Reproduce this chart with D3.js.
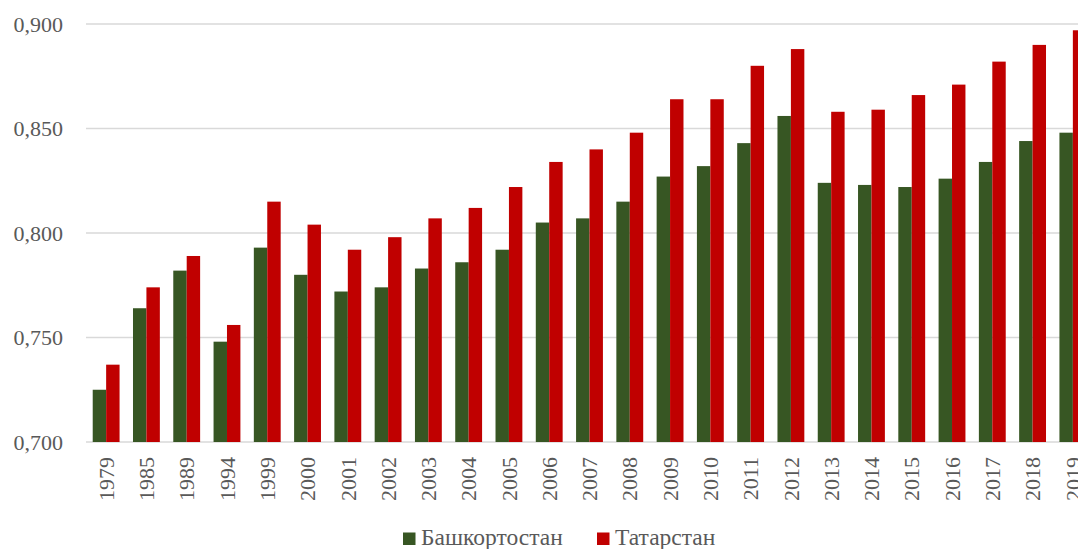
<!DOCTYPE html>
<html>
<head>
<meta charset="utf-8">
<script src="https://cdn.jsdelivr.net/npm/d3@7"></script>
<style>
  html, body { margin: 0; padding: 0; background: #fff; overflow: hidden; }
  text { font-family: "Liberation Serif", "DejaVu Serif", serif; fill: #595959; }
</style>
</head>
<body>
<svg id="chart" width="1078" height="549"></svg>
<script>
// Years and index values
const years = ['1979', '1985', '1989', '1994', '1999', '2000', '2001', '2002', '2003', '2004',
  '2005', '2006', '2007', '2008', '2009', '2010', '2011', '2012', '2013', '2014',
  '2015', '2016', '2017', '2018', '2019'];
const bashkortostan = [0.725, 0.764, 0.782, 0.748, 0.793, 0.780, 0.772, 0.774, 0.783, 0.786,
  0.792, 0.805, 0.807, 0.815, 0.827, 0.832, 0.843, 0.856, 0.824, 0.823,
  0.822, 0.826, 0.834, 0.844, 0.848];
const tatarstan = [0.737, 0.774, 0.789, 0.756, 0.815, 0.804, 0.792, 0.798, 0.807, 0.812,
  0.822, 0.834, 0.840, 0.848, 0.864, 0.864, 0.880, 0.888, 0.858, 0.859,
  0.866, 0.871, 0.882, 0.890, 0.897];
const seriesNames = ['Башкортостан', 'Татарстан'];
const yTicks = [0.700, 0.750, 0.800, 0.850, 0.900];

const colors = { 'Башкортостан': '#375623', 'Татарстан': '#c00000' };

const svg = d3.select('#chart');

// plot area runs a bit past the right edge, like the original
const plot = { left: 86, right: 1093, top: 24, bottom: 442 };

const x0 = d3.scaleBand()
    .domain(years)
    .range([plot.left, plot.right])
    .paddingInner(1 / 3)
    .paddingOuter(1 / 6);

const x1 = d3.scaleBand()
    .domain(seriesNames)
    .range([0, x0.bandwidth()]);

const y = d3.scaleLinear()
    .domain([0.7, 0.9])
    .range([plot.bottom, plot.top]);

const fmt = v => d3.format('.3f')(v).replace('.', ',');

// gridlines
svg.append('g')
    .selectAll('line')
    .data(yTicks)
    .join('line')
    .attr('x1', plot.left)
    .attr('x2', plot.right)
    .attr('y1', d => y(d))
    .attr('y2', d => y(d))
    .attr('stroke', '#d9d9d9')
    .attr('stroke-width', 1.5);

// y labels
svg.append('g')
    .selectAll('text')
    .data(yTicks)
    .join('text')
    .attr('x', 63)
    .attr('y', d => y(d))
    .attr('dy', '0.35em')
    .attr('text-anchor', 'end')
    .attr('font-size', 22)
    .text(fmt);

// bars
const rows = years.map((yr, i) => ({
    year: yr,
    values: [
        { key: seriesNames[0], value: bashkortostan[i] },
        { key: seriesNames[1], value: tatarstan[i] }
    ]
}));

const groups = svg.append('g')
    .selectAll('g')
    .data(rows)
    .join('g')
    .attr('transform', d => `translate(${x0(d.year)},0)`);

groups.selectAll('rect')
    .data(d => d.values)
    .join('rect')
    .attr('x', d => x1(d.key))
    .attr('y', d => y(d.value))
    .attr('width', x1.bandwidth())
    .attr('height', d => y(0.7) - y(d.value))
    .attr('fill', d => colors[d.key]);

// x labels, rotated
svg.append('g')
    .selectAll('text')
    .data(years)
    .join('text')
    .attr('transform', d => `translate(${x0(d) + x0.bandwidth() / 2},457) rotate(-90)`)
    .attr('dy', '0.35em')
    .attr('text-anchor', 'end')
    .attr('font-size', 22)
    .text(d => d);

// legend
const legendItems = [
    { key: seriesNames[0], x: 403 },
    { key: seriesNames[1], x: 597 }
];
const legend = svg.append('g')
    .selectAll('g')
    .data(legendItems)
    .join('g')
    .attr('transform', d => `translate(${d.x},532.5)`);

legend.append('rect')
    .attr('width', 12.5)
    .attr('height', 12.5)
    .attr('fill', d => colors[d.key]);

legend.append('text')
    .attr('x', 18)
    .attr('y', 12.5)
    .attr('font-size', 23.5)
    .text(d => d.key);
</script>
</body>
</html>
